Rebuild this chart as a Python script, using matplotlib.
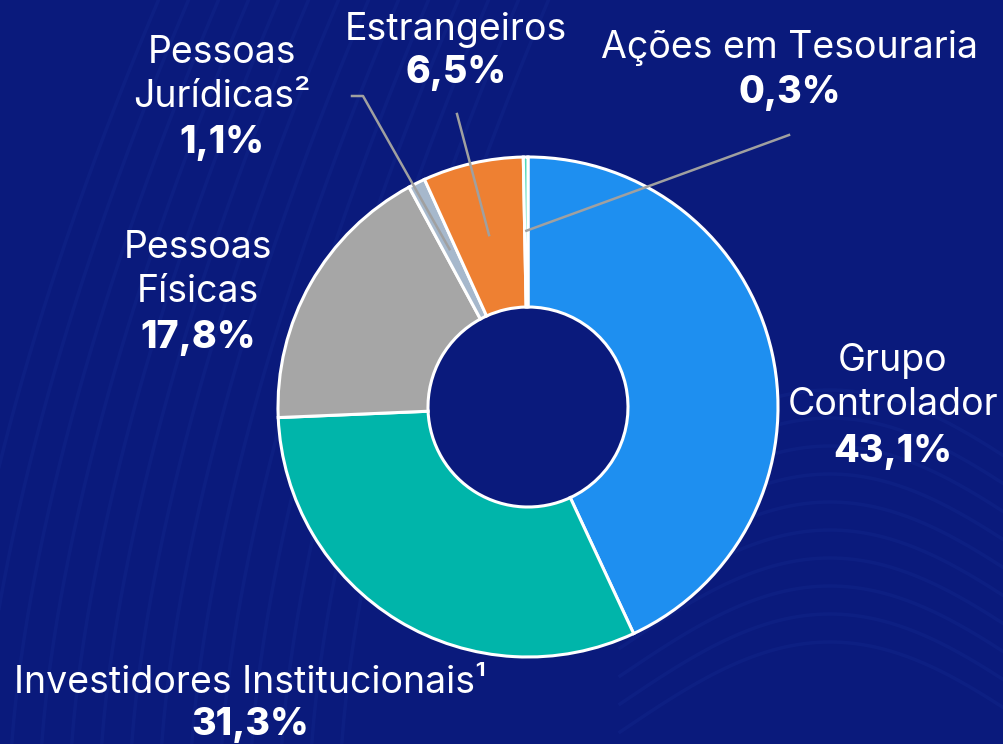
import numpy as np
import matplotlib
matplotlib.use("Agg")
import matplotlib.pyplot as plt

plt.rcParams["font.family"] = ["Inter", "DejaVu Sans"]

# shareholder structure
labels = ["Grupo\nControlador", "Investidores Institucionais¹", "Pessoas\nFísicas",
          "Pessoas\nJurídicas²", "Estrangeiros", "Ações em Tesouraria"]
values = [43.1, 31.3, 17.8, 1.1, 6.5, 0.3]
pct_labels = ["43,1%", "31,3%", "17,8%", "1,1%", "6,5%", "0,3%"]
colors = ["#1e8ff0", "#00b5aa", "#a6a6a6", "#a6b8cc", "#ee8032", "#4fd8b8"]

# label anchor positions (pixels, origin top-left) for name and value
name_pos = [(893, 383), (250, 683), (198, 270), (222, 75), (456, 30), (790, 48)]
pct_pos = [(893, 452), (250, 725), (198, 338), (222, 143), (456, 73), (790, 93)]
# leader line start points (text side)
leader_idx = [3, 4, 5]
leader_start = {3: [(352, 96), (363, 96)], 4: [(457, 114)], 5: [(789, 135)]}

BG = "#0a1a7c"
W, H = 1004, 744
cx, cy, R = 528, 407, 250

fig = plt.figure(figsize=(W / 100, H / 100), dpi=100, facecolor=BG)
ax = fig.add_axes([0, 0, 1, 1])
ax.set_facecolor(BG)

# faint background swirls
t = np.linspace(0, 1, 200)
for k in range(14):
    x = -50 + k * 30 + 260 * t ** 1.6
    y = H + 40 - 900 * t
    ax.plot(x, H - y, color="#2a4cc0", alpha=0.10, lw=2.5, zorder=0)
for k in range(10):
    x = 620 + 420 * t
    y = 480 + k * 28 - 90 * np.sin(np.pi * t)
    ax.plot(x, H - y, color="#2a4cc0", alpha=0.10, lw=2.5, zorder=0)

wedges, _ = ax.pie(values, colors=colors, startangle=90, counterclock=False,
                   center=(cx, H - cy), radius=R, frame=True,
                   wedgeprops=dict(width=0.6 * R, edgecolor="white", linewidth=2.2,
                                   zorder=3))

ax.set_xlim(0, W)
ax.set_ylim(0, H)
ax.set_aspect("equal")
ax.axis("off")

# leader lines
for i in leader_idx:
    w = wedges[i]
    mid = np.deg2rad((w.theta1 + w.theta2) / 2)
    ex = cx + 0.705 * R * np.cos(mid)
    ey = (H - cy) + 0.705 * R * np.sin(mid)
    pts = leader_start[i]
    xs = [p[0] for p in pts] + [ex]
    ys = [H - p[1] for p in pts] + [ey]
    ax.plot(xs, ys, color="#a0a0a0", lw=1.8, zorder=5)

for name, pct, (nx, ny), (px, py) in zip(labels, pct_labels, name_pos, pct_pos):
    ax.text(nx, H - ny, name, color="white", fontsize=27, ha="center", va="center",
            linespacing=1.27, zorder=6)
    ax.text(px, H - py, pct, color="white", fontsize=27, fontweight="heavy",
            ha="center", va="center", zorder=6)

fig.savefig("out.png", dpi=100, facecolor=BG)
